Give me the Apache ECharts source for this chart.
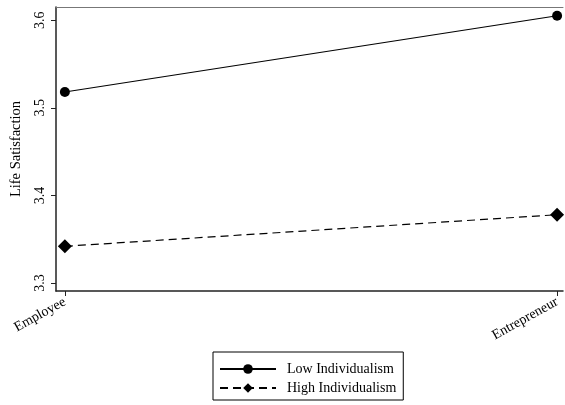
<!DOCTYPE html>
<html><head><meta charset="utf-8">
<script src="https://cdn.jsdelivr.net/npm/echarts@6/dist/echarts.min.js"></script>
<style>html,body{margin:0;padding:0;background:#fff}#c{width:565px;height:405px}</style>
</head><body><div id="c"></div>
<script>
const categories = ['Employee', 'Entrepreneur'];
const lowIndividualism = [3.518, 3.605];
const highIndividualism = [3.342, 3.378];
const yTicks = [3.3, 3.4, 3.5, 3.6];
const seriesNames = ['Low Individualism', 'High Individualism'];

const FONT = 'Liberation Serif';
const chart = echarts.init(document.getElementById('c'), null, {renderer: 'canvas'});
const toPts = arr => arr.map((v, i) => [i, v]);
chart.setOption({
  animation: false,
  textStyle: {fontFamily: FONT},
  grid: {left: 56, top: 7, right: 2, bottom: 114},
  xAxis: [{
    type: 'value', min: -0.018, max: 1.012,
    axisLine: {show: true, onZero: false, lineStyle: {color: '#222', width: 1.5}},
    axisTick: {show: true, customValues: [0, 1], length: 5, lineStyle: {color: '#222'}},
    axisLabel: {customValues: [0, 1], rotate: 29, fontFamily: FONT, fontSize: 14, color: '#000',
      formatter: v => categories[Math.round(v)] || '', margin: 10},
    splitLine: {show: false}
  }, {
    type: 'value', position: 'top', min: -0.018, max: 1.012,
    axisLine: {show: true, onZero: false, lineStyle: {color: '#777', width: 1}},
    axisTick: {show: false}, axisLabel: {show: false}, splitLine: {show: false}
  }],
  yAxis: {
    type: 'value', min: 3.291, max: 3.615,
    name: 'Life Satisfaction', nameLocation: 'middle', nameGap: 32, nameRotate: 90,
    nameTextStyle: {fontFamily: FONT, fontSize: 14.5, color: '#000'},
    axisLine: {show: true, onZero: false, lineStyle: {color: '#222', width: 1.5}},
    axisTick: {show: true, customValues: yTicks, length: 5, lineStyle: {color: '#222'}},
    axisLabel: {customValues: yTicks, rotate: 90, fontFamily: FONT, fontSize: 14, color: '#000',
      formatter: v => v.toFixed(1), margin: 9},
    splitLine: {show: false}
  },
  legend: {
    data: seriesNames, orient: 'vertical', left: 213, top: 352,
    itemWidth: 56, itemHeight: 12, itemGap: 5,
    borderColor: '#000', borderWidth: 1, borderRadius: 0, padding: [10, 7, 5, 6],
    textStyle: {fontFamily: FONT, fontSize: 14, color: '#000', padding: [0, 0, 0, 6]}
  },
  series: [{
    name: seriesNames[0], type: 'line', data: toPts(lowIndividualism),
    symbol: 'circle', symbolSize: 10,
    lineStyle: {color: '#000', width: 1.2}, itemStyle: {color: '#000'}
  }, {
    name: seriesNames[1], type: 'line', data: toPts(highIndividualism),
    symbol: 'diamond', symbolSize: 14,
    lineStyle: {color: '#000', width: 1.2, type: [8, 5]}, itemStyle: {color: '#000'}
  }]
});
</script></body></html>
